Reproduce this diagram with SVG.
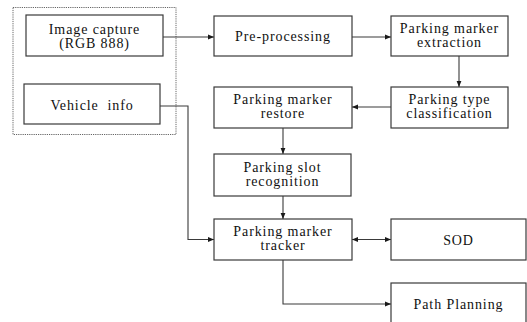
<svg xmlns="http://www.w3.org/2000/svg" width="527" height="322" viewBox="0 0 527 322">
  <style>
    .box { fill: #fff; stroke: #3a3a3a; stroke-width: 1.2; }
    .grp { fill: none; stroke: #666; stroke-width: 1; stroke-dasharray: 1.2 1; }
    .lbl { font-family: 'Liberation Serif', 'Times New Roman', serif; font-size: 14px; fill: #111; text-anchor: middle; letter-spacing: 0.9px; white-space: pre; }
    .wire { fill: none; stroke: #3a3a3a; stroke-width: 1.1; }
  </style>
  <defs>
    <marker id="arrow" viewBox="0 0 10 10" refX="10" refY="5" markerWidth="6" markerHeight="6" orient="auto-start-reverse" markerUnits="userSpaceOnUse">
      <path d="M0,1 L10,5 L0,9 Z" fill="#1a1a1a"/>
    </marker>
  </defs>

  <rect width="527" height="322" fill="#fff"/>

  <!-- dotted frame around the two inputs -->
  <rect id="inputs" class="grp" x="13" y="7.5" width="163" height="127"/>

  <g id="connectors">
    <path class="wire" d="M163,37 H214" marker-end="url(#arrow)"/>
    <path class="wire" d="M352,37 H391" marker-end="url(#arrow)"/>
    <path class="wire" d="M459,56 V87" marker-end="url(#arrow)"/>
    <path class="wire" d="M391,107 H352" marker-end="url(#arrow)"/>
    <path class="wire" d="M283,128 V154" marker-end="url(#arrow)"/>
    <path class="wire" d="M283,196 V219" marker-end="url(#arrow)"/>
    <path class="wire" d="M160,106 H188 V239.5 H214" marker-end="url(#arrow)"/>
    <path class="wire" d="M352,239.5 H391" marker-start="url(#arrow)" marker-end="url(#arrow)"/>
    <path class="wire" d="M283,260 V304 H391" marker-end="url(#arrow)"/>
  </g>

  <g id="image-capture">
    <rect class="box" x="26" y="15" width="137" height="41"/>
    <text class="lbl" x="94.5" y="34">Image capture</text>
    <text class="lbl" x="94.5" y="48">(RGB 888)</text>
  </g>

  <g id="vehicle-info">
    <rect class="box" x="24" y="84" width="136" height="40"/>
    <text class="lbl" x="92" y="109.5">Vehicle  info</text>
  </g>

  <g id="pre-processing">
    <rect class="box" x="214" y="16" width="138" height="40"/>
    <text class="lbl" x="283" y="41">Pre-processing</text>
  </g>

  <g id="marker-extraction">
    <rect class="box" x="391" y="16" width="117" height="40"/>
    <text class="lbl" x="449.5" y="32.5">Parking marker</text>
    <text class="lbl" x="449.5" y="46.5">extraction</text>
  </g>

  <g id="type-classification">
    <rect class="box" x="391" y="87" width="117" height="41"/>
    <text class="lbl" x="449.5" y="104">Parking type</text>
    <text class="lbl" x="449.5" y="118">classification</text>
  </g>

  <g id="marker-restore">
    <rect class="box" x="214" y="87" width="138" height="41"/>
    <text class="lbl" x="283" y="104">Parking marker</text>
    <text class="lbl" x="283" y="118">restore</text>
  </g>

  <g id="slot-recognition">
    <rect class="box" x="214" y="154" width="137" height="42"/>
    <text class="lbl" x="282.5" y="171.5">Parking slot</text>
    <text class="lbl" x="282.5" y="185.5">recognition</text>
  </g>

  <g id="marker-tracker">
    <rect class="box" x="214" y="219" width="138" height="41"/>
    <text class="lbl" x="283" y="236">Parking marker</text>
    <text class="lbl" x="283" y="250">tracker</text>
  </g>

  <g id="sod">
    <rect class="box" x="391" y="219" width="135" height="41"/>
    <text class="lbl" x="458.5" y="245">SOD</text>
  </g>

  <g id="path-planning">
    <rect class="box" x="391" y="283" width="135" height="45"/>
    <text class="lbl" x="458.5" y="309">Path Planning</text>
  </g>
</svg>
